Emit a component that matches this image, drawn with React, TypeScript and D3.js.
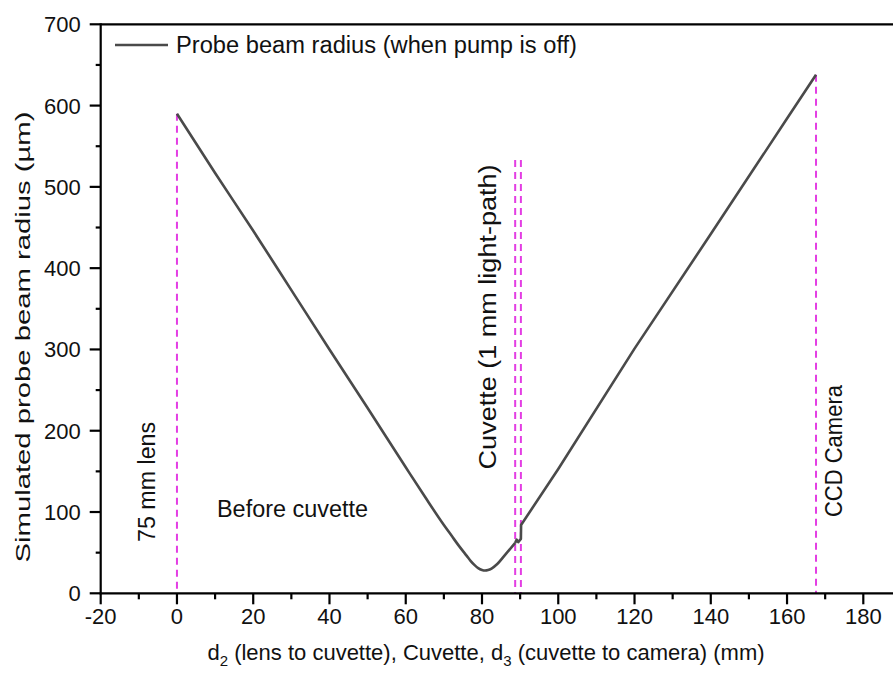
import * as d3 from 'd3';

// beam radius (mm, µm): focusing part
const focusX = [0, 10, 20, 30, 40, 50, 60, 65, 70, 72, 74, 76, 77, 78, 79, 80, 80.8, 81.6, 82.5, 84, 86, 88.7];
const focusY = [590, 517, 446, 373, 300, 228, 155, 119, 84, 71, 58, 46, 40, 35, 31, 28.7, 28, 28.6, 30.5, 36, 47, 62];
// cuvette and after (straight segments)
const exitX = [88.7, 89.1, 89.5, 90.2, 90.25, 100, 120, 140, 160, 167.6];
const exitY = [62, 66, 63, 67, 84, 153, 301, 442, 584, 638];

// magenta dashed markers: position (mm) and top (µm)
const markerX = [0, 88.7, 90.2, 167.6];
const markerTop = [590, 533, 533, 638];

// annotations: text, x (mm), y (µm), rotated?
const noteText = ['75 mm lens', 'Before cuvette', 'Cuvette (1 mm light-path)', 'CCD Camera'];
const noteX = [-7.9, 10.5, 81.6, 172.3];
const noteY = [137, 94, 340, 175];
const noteRot = [true, false, true, true];
const noteSize = [23, 23, 23, 23];
const noteLen = [120, 151, 305, 132];

const xMajor = [-20, 0, 20, 40, 60, 80, 100, 120, 140, 160, 180];
const yMajor = [0, 100, 200, 300, 400, 500, 600, 700];

const W = 893;
const H = 675;
const FONT = "'Liberation Sans', Arial, sans-serif";

export default function App() {
  const left = 100.7;
  const top = 24.3;
  const bottom = 593.3;

  const x = d3.scaleLinear().domain([-20, 190]).range([left, left + 210 * 3.813]);
  const y = d3.scaleLinear().domain([0, 700]).range([bottom, top]);

  const xMinor = d3.range(-20, 190, 10).filter(v => !xMajor.includes(v));
  const yMinor = d3.range(50, 700, 100);

  const smooth = d3.line<[number, number]>()
    .x(d => x(d[0]))
    .y(d => y(d[1]))
    .curve(d3.curveMonotoneX);
  const straight = d3.line<[number, number]>()
    .x(d => x(d[0]))
    .y(d => y(d[1]));

  const focusPts: [number, number][] = focusX.map((v, i) => [v, focusY[i]]);
  const exitPts: [number, number][] = exitX.map((v, i) => [v, exitY[i]]);

  return (
    <svg width={W} height={H} style={{ position: 'absolute', left: 0, top: 0, background: '#fff' }} fontFamily={FONT}>
      {/* dashed markers */}
      {markerX.map((m, i) => (
        <line key={'m' + i} x1={x(m)} x2={x(m)} y1={y(markerTop[i])} y2={y(0)}
          stroke="#e33ee3" strokeWidth={2} strokeDasharray="7,5" />
      ))}

      {/* beam curve */}
      <path d={smooth(focusPts) ?? ''} fill="none" stroke="#4a4a4a" strokeWidth={2.6} strokeLinejoin="round" />
      <path d={straight(exitPts) ?? ''} fill="none" stroke="#4a4a4a" strokeWidth={2.6} strokeLinejoin="round" />

      {/* axes */}
      <line x1={left} x2={W} y1={top} y2={top} stroke="#000" strokeWidth={2.2} />
      <line x1={left} x2={left} y1={top - 1} y2={bottom + 1} stroke="#000" strokeWidth={2.2} />
      <line x1={left - 1} x2={W} y1={bottom} y2={bottom} stroke="#000" strokeWidth={2.2} />

      {xMajor.map(v => (
        <g key={'xt' + v}>
          <line x1={x(v)} x2={x(v)} y1={bottom} y2={bottom + 11} stroke="#000" strokeWidth={2.2} />
          <text x={x(v)} y={bottom + 31} textAnchor="middle" fontSize={22} fill="#111">{v}</text>
        </g>
      ))}
      {xMinor.map(v => (
        <line key={'xm' + v} x1={x(v)} x2={x(v)} y1={bottom} y2={bottom + 6} stroke="#000" strokeWidth={2.2} />
      ))}
      {yMajor.map(v => (
        <g key={'yt' + v}>
          <line x1={left - 11} x2={left} y1={y(v)} y2={y(v)} stroke="#000" strokeWidth={2.2} />
          <text x={left - 20} y={y(v)} dy="0.36em" textAnchor="end" fontSize={22} fill="#111">{v}</text>
        </g>
      ))}
      {yMinor.map(v => (
        <line key={'ym' + v} x1={left - 5} x2={left} y1={y(v)} y2={y(v)} stroke="#000" strokeWidth={2.2} />
      ))}

      {/* axis titles */}
      <text transform="translate(22,337) rotate(-90)" textAnchor="middle" dominantBaseline="central"
        fontSize={21} fill="#111" textLength={451} lengthAdjust="spacingAndGlyphs">Simulated probe beam radius (µm)</text>
      <text x={486} y={660} textAnchor="middle" fontSize={22} fill="#111">
        d<tspan fontSize={15} dy={6}>2</tspan><tspan dy={-6}> (lens to cuvette), Cuvette, d</tspan>
        <tspan fontSize={15} dy={6}>3</tspan><tspan dy={-6}> (cuvette to camera) (mm)</tspan>
      </text>

      {/* annotations */}
      {noteText.map((t, i) => noteRot[i] ? (
        <text key={'n' + i} transform={`translate(${x(noteX[i])},${y(noteY[i])}) rotate(-90)`}
          textAnchor="middle" dominantBaseline="central" fontSize={noteSize[i]} fill="#111"
          textLength={noteLen[i]} lengthAdjust="spacingAndGlyphs">{t}</text>
      ) : (
        <text key={'n' + i} x={x(noteX[i])} y={y(noteY[i])} fontSize={noteSize[i]} fill="#111"
          textLength={noteLen[i]} lengthAdjust="spacingAndGlyphs">{t}</text>
      ))}

      {/* legend */}
      <line x1={115} x2={168} y1={45} y2={45} stroke="#4a4a4a" strokeWidth={2.6} />
      <text x={176} y={45} dy="0.36em" fontSize={23} fill="#111" textLength={401} lengthAdjust="spacingAndGlyphs">
        Probe beam radius (when pump is off)
      </text>
    </svg>
  );
}
